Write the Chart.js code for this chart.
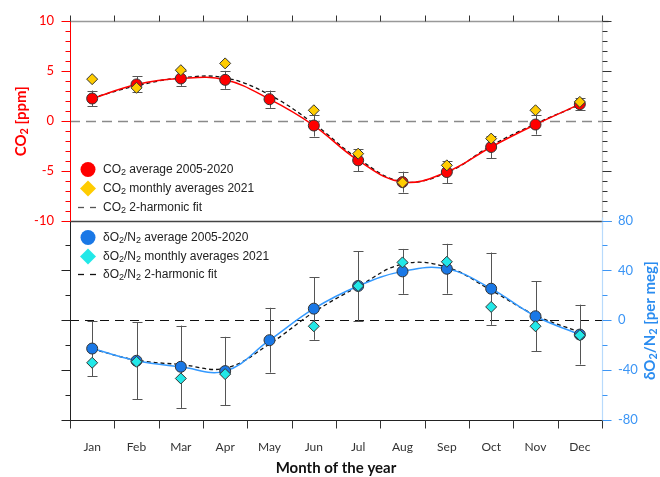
<!DOCTYPE html>
<html>
<head>
<meta charset="utf-8">
<script src="https://cdn.jsdelivr.net/npm/chart.js@4.4.1/dist/chart.umd.min.js"></script>
<style>
  html, body { margin: 0; padding: 0; background: #fff; }
  #wrap { width: 660px; height: 477px; }
</style>
</head>
<body>
<div id="wrap"><canvas id="chart" width="660" height="477"></canvas></div>
<script>
const months = ["Jan", "Feb", "Mar", "Apr", "May", "Jun", "Jul", "Aug", "Sep", "Oct", "Nov", "Dec"];

// CO2 [ppm]
const co2Avg = [2.23, 3.64, 4.24, 4.1, 2.16, -0.48, -3.97, -6.15, -5.14, -2.63, -0.38, 1.66];
const co2Err = [0.8, 0.8, 0.75, 0.9, 0.87, 1.1, 1.1, 1.05, 1.1, 1.15, 1.0, 0.6];
const co2Y2021 = [4.17, 3.3, 5.07, 5.75, null, 1.05, -3.3, -6.2, -4.47, -1.79, 1.05, 1.89];
const co2Fit = [2.3, 3.5, 4.3, 4.3, 2.6, -0.3, -3.8, -6.1, -5.2, -2.5, -0.3, 1.6];

// dO2/N2 [per meg]
const o2Avg = [-22.7, -32.5, -37.3, -40.8, -16, 9.3, 27.5, 39.2, 41.3, 25.3, 3.2, -11.5];
const o2Err = [22, 31, 33, 27.5, 26, 25, 28, 18, 20, 29, 28, 24];
const o2Y2021 = [-34.1, -33.3, -46.7, -43.2, null, -4.8, 27.5, 46.4, 46.9, 10.7, -4.8, -12];
const o2Fit = [-23, -32, -35.5, -38.5, -19, 6.5, 27, 45, 42.5, 24, 4, -9.5];

const co2Ticks = [-10, -5, 0, 5, 10];
const o2Ticks = [-80, -40, 0, 40, 80];

const RED = "#ff0000";
const GOLD = "#ffcc00";
const BLUE = "#1a78e6";
const LIGHTBLUE = "#3399ff";
const CYAN = "#22e8e8";
const AXISBLUE = "#3b95f5";
const SANS = '"Liberation Sans", Arial, sans-serif';
const LATO = 'Lato, "Open Sans", sans-serif';

// "_2" in a string means subscript 2
function richText(ctx, str, x, y, size, weight, color, family, align) {
  const parts = str.split(/(_\d)/).filter(Boolean);
  const base = `${weight} ${size}px ${family}`;
  const sub = `${weight} ${Math.round(size * 0.72)}px ${family}`;
  let w = 0;
  parts.forEach(p => {
    ctx.font = p[0] === "_" ? sub : base;
    w += ctx.measureText(p[0] === "_" ? p.slice(1) : p).width;
  });
  let cx = align === "center" ? x - w / 2 : x;
  ctx.fillStyle = color;
  ctx.textBaseline = "middle";
  ctx.textAlign = "left";
  parts.forEach(p => {
    const isSub = p[0] === "_";
    const t = isSub ? p.slice(1) : p;
    ctx.font = isSub ? sub : base;
    ctx.fillText(t, cx, y + (isSub ? size * 0.25 : 0));
    cx += ctx.measureText(t).width;
  });
}

function line(ctx, x1, y1, x2, y2, color, width, dash) {
  ctx.save();
  ctx.strokeStyle = color;
  ctx.lineWidth = width;
  ctx.setLineDash(dash || []);
  ctx.beginPath();
  ctx.moveTo(x1, y1);
  ctx.lineTo(x2, y2);
  ctx.stroke();
  ctx.restore();
}

// minor / major tick marks on a vertical axis
function vTicks(ctx, scale, from, to, step, major, xPos, dir, color) {
  for (let v = from; v <= to; v += step) {
    const y = Math.round(scale.getPixelForValue(v)) + 0.5;
    const len = v % major === 0 ? 9 : 5;
    line(ctx, xPos, y, xPos + dir * len, y, color, 1);
  }
}

function errorBars(ctx, xs, ys, vals, errs) {
  vals.forEach((v, i) => {
    const px = Math.round(xs.getPixelForValue(i)) + 0.5;
    const top = ys.getPixelForValue(v + errs[i]);
    const bot = ys.getPixelForValue(v - errs[i]);
    line(ctx, px, top, px, bot, "#555", 1);
    line(ctx, px - 5, Math.round(top) + 0.5, px + 5, Math.round(top) + 0.5, "#555", 1);
    line(ctx, px - 5, Math.round(bot) + 0.5, px + 5, Math.round(bot) + 0.5, "#555", 1);
  });
}

function legendSymbol(ctx, kind, x, y, color) {
  ctx.save();
  ctx.fillStyle = color;
  ctx.beginPath();
  if (kind === "circle") {
    ctx.arc(x, y, 7.5, 0, Math.PI * 2);
  } else {
    ctx.moveTo(x, y - 8);
    ctx.lineTo(x + 8, y);
    ctx.lineTo(x, y + 8);
    ctx.lineTo(x - 8, y);
    ctx.closePath();
  }
  ctx.fill();
  ctx.restore();
}

const panels = {
  id: "panels",
  beforeDatasetsDraw(chart) {
    const { ctx, chartArea: a, scales: { x, yc, yo } } = chart;
    const z1 = Math.round(yc.getPixelForValue(0)) + 0.5;
    line(ctx, a.left, z1, a.right, z1, "#8a8a8a", 1.6, [10, 6]);
    const z2 = Math.round(yo.getPixelForValue(0)) + 0.5;
    line(ctx, a.left, z2, a.right, z2, "#111", 1, [9, 6]);
    errorBars(ctx, x, yc, co2Avg, co2Err);
    errorBars(ctx, x, yo, o2Avg, o2Err);
  },
  afterDraw(chart) {
    const { ctx, chartArea: a, scales: { x, yc, yo } } = chart;
    const mid = Math.round(yc.getPixelForValue(-10)) + 0.5;
    const top = Math.round(a.top) + 0.5;
    const bot = Math.round(a.bottom) + 0.5;
    const L = Math.round(a.left) + 0.5;
    const R = Math.round(a.right) + 0.5;

    // axis lines
    line(ctx, L, top, R + 6, top, "#999", 1.5);
    line(ctx, L, mid, R, mid, "#444", 1.5);
    line(ctx, L - 4, bot, R + 2, bot, "#222", 1.2);
    line(ctx, L, top, L, mid, RED, 1);
    line(ctx, L, mid, L, bot, "#222", 1);
    line(ctx, R, top - 6, R, mid + 8, "#c8c8c8", 1.2);
    line(ctx, R, mid - 4, R, bot + 6, "#b8dafc", 1.2);

    // ticks
    vTicks(ctx, yc, -10, 10, 1, 5, L, -1, RED);
    vTicks(ctx, yc, -10, 10, 1, 5, R, 1, "#333");
    vTicks(ctx, yo, -80, 60, 20, 40, L, -1, "#222");
    vTicks(ctx, yo, -80, 80, 20, 40, R, 1, AXISBLUE);
    for (let i = 0; i <= months.length; i++) {
      const px = Math.round(x.getPixelForValue(i - 0.5)) + 0.5;
      line(ctx, px, top, px, top - 6, "#333", 1);
      line(ctx, px, bot, px, bot + 8, "#333", 1);
    }

    // axis titles
    ctx.save();
    ctx.translate(21, (a.top + mid) / 2);
    ctx.rotate(-Math.PI / 2);
    richText(ctx, "CO_2 [ppm]", 0, 0, 15, "bold", RED, LATO, "center");
    ctx.restore();
    ctx.save();
    ctx.translate(650, (mid + a.bottom) / 2);
    ctx.rotate(-Math.PI / 2);
    richText(ctx, "δO_2/N_2 [per meg]", 0, 0, 15, "bold", "#2a8cf0", LATO, "center");
    ctx.restore();

    // legends
    const sx = a.left + 18;
    const tx = a.left + 33;
    legendSymbol(ctx, "circle", sx, mid - 52, RED);
    richText(ctx, "CO_2 average 2005-2020", tx, mid - 52, 12, "normal", "#222", SANS);
    legendSymbol(ctx, "diamond", sx, mid - 33, GOLD);
    richText(ctx, "CO_2 monthly averages 2021", tx, mid - 33, 12, "normal", "#222", SANS);
    line(ctx, sx - 10, mid - 14, sx + 8, mid - 14, "#555", 1.3, [6, 6]);
    richText(ctx, "CO_2 2-harmonic fit", tx, mid - 14, 12, "normal", "#222", SANS);

    legendSymbol(ctx, "circle", sx, mid + 16, BLUE);
    richText(ctx, "δO_2/N_2 average 2005-2020", tx, mid + 16, 12, "normal", "#222", SANS);
    legendSymbol(ctx, "diamond", sx, mid + 35, CYAN);
    richText(ctx, "δO_2/N_2 monthly averages 2021", tx, mid + 35, 12, "normal", "#222", SANS);
    line(ctx, sx - 10, mid + 53, sx + 8, mid + 53, "#111", 1.3, [6, 6]);
    richText(ctx, "δO_2/N_2 2-harmonic fit", tx, mid + 53, 12, "normal", "#222", SANS);
  }
};

// fixed axis boxes, so the plot area lands where the original has it
const fixWidth = (w) => (scale) => {
  scale.width = w;
  scale.paddingTop = 0;
  scale.paddingBottom = 0;
};

new Chart(document.getElementById("chart"), {
  type: "line",
  data: {
    labels: months,
    datasets: [
      {
        label: "CO2 2-harmonic fit",
        data: co2Fit,
        yAxisID: "yc",
        borderColor: "#111",
        borderWidth: 1.3,
        borderDash: [4, 3],
        pointRadius: 0,
        tension: 0.4,
        order: 5,
      },
      {
        label: "CO2 average 2005-2020",
        data: co2Avg,
        yAxisID: "yc",
        borderColor: RED,
        borderWidth: 1.5,
        pointRadius: 5.5,
        pointBackgroundColor: RED,
        pointBorderColor: "#333",
        pointBorderWidth: 1,
        tension: 0.4,
        order: 3,
      },
      {
        label: "CO2 monthly averages 2021",
        data: co2Y2021,
        yAxisID: "yc",
        showLine: false,
        pointStyle: "rectRot",
        pointRadius: 5.5,
        pointBackgroundColor: GOLD,
        pointBorderColor: "#333",
        pointBorderWidth: 1,
        order: 1,
      },
      {
        label: "dO2/N2 2-harmonic fit",
        data: o2Fit,
        yAxisID: "yo",
        borderColor: "#111",
        borderWidth: 1.3,
        borderDash: [4, 3],
        pointRadius: 0,
        tension: 0.4,
        order: 5,
      },
      {
        label: "dO2/N2 average 2005-2020",
        data: o2Avg,
        yAxisID: "yo",
        borderColor: LIGHTBLUE,
        borderWidth: 1.5,
        pointRadius: 5.5,
        pointBackgroundColor: BLUE,
        pointBorderColor: "#333",
        pointBorderWidth: 1,
        tension: 0.4,
        order: 3,
      },
      {
        label: "dO2/N2 monthly averages 2021",
        data: o2Y2021,
        yAxisID: "yo",
        showLine: false,
        pointStyle: "rectRot",
        pointRadius: 5.5,
        pointBackgroundColor: CYAN,
        pointBorderColor: "#333",
        pointBorderWidth: 1,
        order: 1,
      },
    ],
  },
  options: {
    responsive: false,
    animation: false,
    events: [],
    layout: { padding: { top: 21, left: 0, right: 0, bottom: 0 } },
    plugins: {
      legend: { display: false },
      tooltip: { enabled: false },
    },
    scales: {
      x: {
        type: "category",
        offset: true,
        grid: { display: false, drawTicks: false },
        border: { display: false },
        ticks: {
          color: "#333",
          font: { family: LATO, size: 12 },
          padding: 20,
          maxRotation: 0,
          autoSkip: false,
        },
        title: {
          display: true,
          text: "Month of the year",
          color: "#111",
          font: { family: LATO, size: 15, weight: "bold" },
          padding: 0,
        },
        afterFit: (scale) => { scale.height = 57; },
      },
      yc: {
        position: "left",
        min: -30,
        max: 10,
        grid: { display: false, drawTicks: false },
        border: { display: false },
        ticks: {
          stepSize: 5,
          color: RED,
          padding: 16,
          font: { family: LATO, size: 13 },
          callback: (v) => (co2Ticks.includes(v) ? v : null),
        },
        afterFit: fixWidth(70),
      },
      yo: {
        position: "right",
        min: -80,
        max: 240,
        grid: { display: false, drawTicks: false },
        border: { display: false },
        ticks: {
          stepSize: 40,
          color: AXISBLUE,
          padding: 16,
          font: { family: LATO, size: 13 },
          callback: (v) => (o2Ticks.includes(v) ? v : null),
        },
        afterFit: fixWidth(58),
      },
    },
  },
  plugins: [panels],
});
</script>
</body>
</html>
